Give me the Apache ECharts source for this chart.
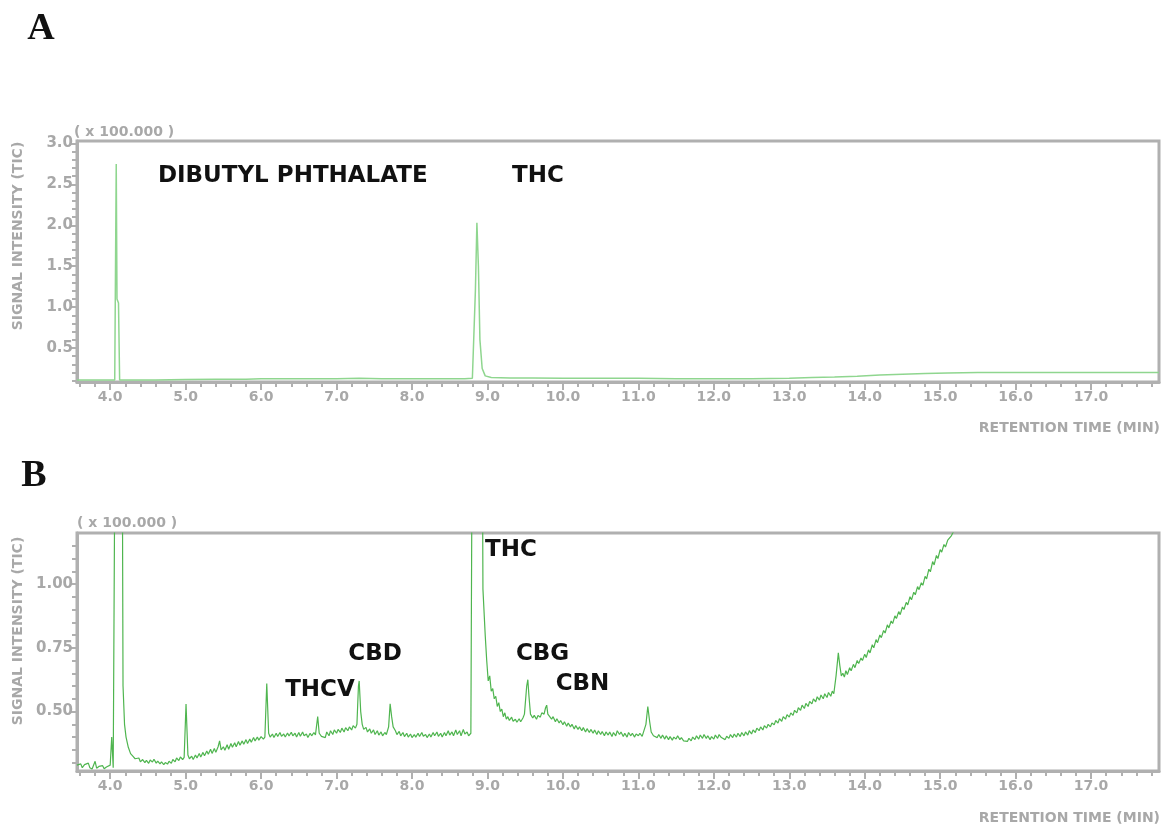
<!DOCTYPE html>
<html>
<head>
<meta charset="utf-8">
<script src="https://cdn.jsdelivr.net/npm/echarts@6/dist/echarts.min.js"></script>
<style>
  html, body { margin: 0; padding: 0; background: #fff; }
  #chart { width: 1164px; height: 827px; }
</style>
</head>
<body>
<div id="chart"></div>
<script>
// chromatogram A: [retention time (min), signal x100.000]
const traceA = [
  [3.56, 0.11], [3.8, 0.11], [4.0, 0.11], [4.06, 0.11], [4.08, 2.75], [4.09, 1.1], [4.11, 1.05], [4.125, 0.11],
  [4.3, 0.11], [4.6, 0.11], [5.0, 0.115], [5.4, 0.12], [5.8, 0.12], [6.0, 0.125], [6.3, 0.125], [6.6, 0.125],
  [7.0, 0.125], [7.3, 0.13], [7.6, 0.125], [8.0, 0.125], [8.4, 0.125], [8.7, 0.125], [8.8, 0.13], [8.84, 1.2],
  [8.86, 2.03], [8.88, 1.5], [8.9, 0.6], [8.93, 0.25], [8.97, 0.16], [9.05, 0.14], [9.3, 0.135], [9.6, 0.135],
  [10.0, 0.13], [10.5, 0.13], [11.0, 0.13], [11.5, 0.125], [12.0, 0.125], [12.5, 0.125], [13.0, 0.13], [13.3, 0.14],
  [13.6, 0.145], [13.9, 0.155], [14.2, 0.17], [14.5, 0.18], [14.8, 0.19], [15.1, 0.195], [15.5, 0.2], [16.0, 0.2],
  [16.5, 0.2], [17.0, 0.2], [17.5, 0.2], [17.9, 0.2]
];

// chromatogram B (zoomed), peaks at 4.1 and 8.85 run off the top
const traceB = [
  [3.56, 0.29], [3.58, 0.283], [3.61, 0.295], [3.63, 0.28], [3.66, 0.292], [3.68, 0.285], [3.71, 0.298], [3.73, 0.28],
  [3.76, 0.275], [3.78, 0.28], [3.80, 0.305], [3.82, 0.278], [3.85, 0.285], [3.87, 0.28], [3.90, 0.288], [3.92, 0.276],
  [3.95, 0.283], [3.97, 0.277], [4.00, 0.29], [4.02, 0.40], [4.04, 0.28], [4.06, 0.275],
  [4.08, 2.5], [4.15, 2.5], [4.17, 0.60], [4.19, 0.45], [4.21, 0.40], [4.24, 0.36], [4.27, 0.335], [4.30, 0.325], [4.33, 0.315],
  [4.35, 0.31], [4.38, 0.318], [4.40, 0.303], [4.43, 0.312], [4.46, 0.300], [4.48, 0.309], [4.51, 0.297], [4.53, 0.31],
  [4.56, 0.302], [4.58, 0.313], [4.61, 0.298], [4.63, 0.306], [4.66, 0.295], [4.68, 0.303], [4.71, 0.292], [4.73, 0.30],
  [4.76, 0.294], [4.78, 0.305], [4.81, 0.297], [4.83, 0.312], [4.86, 0.303], [4.88, 0.318], [4.91, 0.308], [4.93, 0.322],
  [4.96, 0.312], [4.98, 0.32], [5.005, 0.53], [5.03, 0.33], [5.05, 0.315],
  [5.08, 0.325], [5.10, 0.312], [5.13, 0.33], [5.15, 0.318], [5.18, 0.336], [5.20, 0.322], [5.23, 0.34], [5.25, 0.327],
  [5.28, 0.345], [5.30, 0.333], [5.33, 0.352], [5.35, 0.336], [5.38, 0.355], [5.40, 0.34], [5.43, 0.362], [5.45, 0.385],
  [5.47, 0.35], [5.50, 0.362], [5.52, 0.348], [5.55, 0.37], [5.57, 0.352], [5.60, 0.375], [5.62, 0.36], [5.65, 0.378],
  [5.67, 0.362], [5.70, 0.383], [5.72, 0.368], [5.75, 0.385], [5.77, 0.372], [5.80, 0.39], [5.82, 0.375], [5.85, 0.392],
  [5.87, 0.38], [5.90, 0.398], [5.92, 0.385], [5.95, 0.40], [5.97, 0.388], [6.00, 0.402], [6.03, 0.392], [6.05, 0.40],
  [6.075, 0.61], [6.10, 0.415], [6.12, 0.40],
  [6.15, 0.412], [6.17, 0.398], [6.20, 0.415], [6.22, 0.402], [6.25, 0.418], [6.27, 0.403], [6.30, 0.412], [6.32, 0.40],
  [6.35, 0.416], [6.37, 0.404], [6.40, 0.419], [6.42, 0.405], [6.45, 0.415], [6.47, 0.40], [6.50, 0.418], [6.52, 0.403],
  [6.55, 0.42], [6.57, 0.405], [6.60, 0.412], [6.62, 0.398], [6.65, 0.415], [6.67, 0.405], [6.70, 0.418], [6.72, 0.408],
  [6.75, 0.48], [6.77, 0.415], [6.80, 0.403], [6.82, 0.41], [6.85, 0.398], [6.87, 0.42], [6.90, 0.405], [6.92, 0.425],
  [6.95, 0.41], [6.97, 0.428], [7.00, 0.415], [7.02, 0.43], [7.05, 0.418], [7.07, 0.435], [7.10, 0.42], [7.12, 0.437],
  [7.15, 0.425], [7.17, 0.44], [7.20, 0.428], [7.22, 0.445], [7.25, 0.435], [7.27, 0.45],
  [7.29, 0.60], [7.30, 0.62], [7.32, 0.50], [7.34, 0.45], [7.36, 0.43],
  [7.39, 0.438], [7.41, 0.42], [7.44, 0.432], [7.46, 0.415], [7.49, 0.428], [7.51, 0.41], [7.54, 0.425], [7.56, 0.408],
  [7.59, 0.42], [7.61, 0.405], [7.64, 0.418], [7.66, 0.41], [7.69, 0.44], [7.71, 0.53], [7.73, 0.48], [7.75, 0.44], [7.78, 0.425],
  [7.80, 0.41], [7.83, 0.422], [7.85, 0.405], [7.88, 0.418], [7.90, 0.402], [7.93, 0.415], [7.95, 0.40], [7.98, 0.412],
  [8.00, 0.398], [8.03, 0.41], [8.05, 0.40], [8.08, 0.415], [8.10, 0.402], [8.13, 0.418], [8.15, 0.403], [8.18, 0.41],
  [8.20, 0.398], [8.23, 0.412], [8.25, 0.40], [8.28, 0.418], [8.30, 0.405], [8.33, 0.42], [8.35, 0.403], [8.38, 0.415],
  [8.40, 0.40], [8.43, 0.418], [8.45, 0.405], [8.48, 0.425], [8.50, 0.408], [8.53, 0.42], [8.55, 0.405], [8.58, 0.428],
  [8.60, 0.41], [8.63, 0.425], [8.65, 0.405], [8.68, 0.43], [8.70, 0.412], [8.73, 0.42], [8.75, 0.405], [8.78, 0.415],
  [8.80, 0.42], [8.81, 2.5], [8.92, 2.5], [8.94, 0.98], [8.97, 0.80], [8.99, 0.70], [9.01, 0.62], [9.03, 0.64],
  [9.05, 0.58], [9.07, 0.59], [9.09, 0.55], [9.11, 0.56], [9.13, 0.52], [9.15, 0.535], [9.17, 0.50], [9.19, 0.51],
  [9.21, 0.48], [9.23, 0.495], [9.25, 0.47], [9.27, 0.48], [9.29, 0.465], [9.32, 0.478], [9.34, 0.462], [9.37, 0.47],
  [9.39, 0.458], [9.42, 0.472], [9.44, 0.46], [9.47, 0.475], [9.49, 0.49],
  [9.52, 0.60], [9.535, 0.625], [9.55, 0.56], [9.57, 0.49], [9.60, 0.475], [9.62, 0.485], [9.65, 0.47], [9.67, 0.485],
  [9.70, 0.478], [9.72, 0.495], [9.75, 0.49], [9.77, 0.515], [9.785, 0.525], [9.80, 0.49], [9.82, 0.495], [9.85, 0.47],
  [9.87, 0.48], [9.90, 0.46], [9.92, 0.472], [9.95, 0.455], [9.97, 0.465], [10.00, 0.448], [10.02, 0.46], [10.05, 0.442],
  [10.07, 0.455], [10.10, 0.44], [10.12, 0.45], [10.15, 0.432], [10.17, 0.445], [10.20, 0.43], [10.22, 0.44], [10.25, 0.425],
  [10.27, 0.437], [10.30, 0.42], [10.32, 0.433], [10.35, 0.418], [10.37, 0.43], [10.40, 0.415], [10.42, 0.428], [10.45, 0.41],
  [10.47, 0.425], [10.50, 0.41], [10.52, 0.422], [10.55, 0.405], [10.57, 0.42], [10.60, 0.408], [10.62, 0.42], [10.65, 0.402],
  [10.67, 0.418], [10.70, 0.405], [10.72, 0.425], [10.75, 0.41], [10.77, 0.42], [10.80, 0.402], [10.82, 0.415], [10.85, 0.40],
  [10.87, 0.418], [10.90, 0.405], [10.92, 0.415], [10.95, 0.40], [10.97, 0.412], [11.00, 0.405], [11.02, 0.415], [11.05, 0.403],
  [11.07, 0.41], [11.10, 0.45], [11.125, 0.52], [11.15, 0.46], [11.17, 0.42], [11.20, 0.405],
  [11.22, 0.412], [11.25, 0.398], [11.27, 0.41], [11.30, 0.395], [11.32, 0.408], [11.35, 0.392], [11.37, 0.405], [11.40, 0.39],
  [11.42, 0.402], [11.45, 0.388], [11.47, 0.40], [11.50, 0.392], [11.52, 0.405], [11.55, 0.39], [11.57, 0.398], [11.60, 0.385],
  [11.62, 0.392], [11.65, 0.383], [11.67, 0.395], [11.70, 0.385], [11.72, 0.40], [11.75, 0.39], [11.77, 0.405], [11.80, 0.392],
  [11.82, 0.408], [11.85, 0.395], [11.87, 0.41], [11.90, 0.395], [11.92, 0.405], [11.95, 0.39], [11.97, 0.402], [12.00, 0.392],
  [12.02, 0.408], [12.05, 0.395], [12.07, 0.41], [12.10, 0.398], [12.12, 0.405], [12.15, 0.39], [12.17, 0.403], [12.20, 0.395],
  [12.22, 0.41], [12.25, 0.398], [12.27, 0.412], [12.30, 0.40], [12.32, 0.415], [12.35, 0.402], [12.37, 0.418], [12.40, 0.405],
  [12.42, 0.42], [12.45, 0.408], [12.47, 0.425], [12.50, 0.412], [12.52, 0.428], [12.55, 0.418], [12.57, 0.435], [12.60, 0.425],
  [12.62, 0.44], [12.65, 0.428], [12.67, 0.445], [12.70, 0.435],
  [12.72, 0.45], [12.75, 0.44], [12.77, 0.455], [12.80, 0.448], [12.82, 0.465], [12.85, 0.455], [12.87, 0.472], [12.90, 0.462],
  [12.92, 0.48], [12.95, 0.47], [12.97, 0.488], [13.00, 0.478], [13.02, 0.495], [13.05, 0.485], [13.07, 0.505], [13.10, 0.495],
  [13.12, 0.515], [13.15, 0.505], [13.17, 0.525], [13.20, 0.512], [13.22, 0.532], [13.25, 0.52], [13.27, 0.54], [13.30, 0.53],
  [13.32, 0.55], [13.35, 0.538], [13.37, 0.558], [13.40, 0.545], [13.42, 0.565], [13.45, 0.55], [13.47, 0.57], [13.50, 0.555],
  [13.52, 0.575], [13.55, 0.56], [13.57, 0.58], [13.59, 0.57],
  [13.62, 0.64], [13.65, 0.73], [13.67, 0.68], [13.69, 0.64], [13.71, 0.65], [13.73, 0.635], [13.75, 0.66], [13.77, 0.645],
  [13.80, 0.672], [13.82, 0.66], [13.85, 0.685], [13.87, 0.672], [13.90, 0.70], [13.92, 0.688], [13.95, 0.71], [13.97, 0.70],
  [14.00, 0.725], [14.02, 0.712], [14.05, 0.742], [14.07, 0.73], [14.10, 0.762], [14.12, 0.75], [14.15, 0.782], [14.17, 0.77],
  [14.20, 0.80], [14.22, 0.79], [14.25, 0.818], [14.27, 0.808], [14.30, 0.84], [14.32, 0.828], [14.35, 0.855], [14.37, 0.845],
  [14.40, 0.875], [14.42, 0.865], [14.45, 0.892], [14.47, 0.88], [14.50, 0.91], [14.52, 0.90], [14.55, 0.928], [14.57, 0.918],
  [14.60, 0.95], [14.62, 0.938], [14.65, 0.968], [14.67, 0.958], [14.70, 0.99], [14.72, 0.978], [14.75, 1.005], [14.77, 0.995],
  [14.80, 1.03], [14.82, 1.02], [14.85, 1.058], [14.87, 1.048], [14.90, 1.088], [14.92, 1.075], [14.95, 1.112], [14.97, 1.10],
  [15.00, 1.135], [15.02, 1.125], [15.05, 1.155], [15.07, 1.145], [15.10, 1.172], [15.12, 1.165], [15.15, 1.19], [15.17, 1.185],
  [15.20, 1.22]
];

// peak names and where their labels sit [time, level]
const peaksA = [
  { name: 'DIBUTYL PHTHALATE', coord: [6.42, 2.6] },
  { name: 'THC', coord: [9.67, 2.6] }
];
const peaksB = [
  { name: 'THC', coord: [9.31, 1.134] },
  { name: 'CBD', coord: [7.51, 0.724] },
  { name: 'THCV', coord: [6.78, 0.583] },
  { name: 'CBG', coord: [9.73, 0.724] },
  { name: 'CBN', coord: [10.26, 0.607] }
];

const xTicks = [4, 5, 6, 7, 8, 9, 10, 11, 12, 13, 14, 15, 16, 17];
const yTicksA = [0.5, 1.0, 1.5, 2.0, 2.5, 3.0];
const yTicksB = [0.5, 0.75, 1.0];

// minor ticks: 0.2 min on x, 0.1 on A, 0.05 on B
const xMinor = [];
for (let i = 18; i <= 89; i++) if (i % 5 !== 0) xMinor.push(i / 5);
const yMinorA = [];
for (let i = 1; i <= 30; i++) if (i % 5 !== 0) yMinorA.push(i / 10);
const yMinorB = [];
for (let i = 6; i <= 23; i++) if (i % 5 !== 0) yMinorB.push(i / 20);

const gray = '#b0b0b0';
const labelGray = '#a8a8a8';
const font = 'DejaVu Sans';

function xAxes(grid) {
  return [{
    type: 'value', gridIndex: grid, position: 'bottom', min: 3.56, max: 17.9,
    axisLine: { lineStyle: { color: gray, width: 3 } },
    axisTick: { customValues: xTicks, length: 8, lineStyle: { color: gray, width: 2 } },
    axisLabel: { customValues: xTicks, formatter: v => v.toFixed(1), color: labelGray, fontSize: 14, fontWeight: 600, fontFamily: font, margin: 8 },
    splitLine: { show: false }
  }, {
    type: 'value', gridIndex: grid, position: 'bottom', min: 3.56, max: 17.9,
    axisLine: { show: false },
    axisTick: { customValues: xMinor, length: 5, lineStyle: { color: gray, width: 2 } },
    axisLabel: { show: false },
    splitLine: { show: false }
  }];
}

function yAxes(grid, min, max, ticks, minor, digits) {
  return [{
    type: 'value', gridIndex: grid, position: 'left', min: min, max: max,
    axisLine: { show: true, lineStyle: { color: gray, width: 3 } },
    axisTick: { show: true, customValues: ticks, length: 7, lineStyle: { color: gray, width: 2 } },
    axisLabel: { customValues: ticks, formatter: v => v.toFixed(digits), color: labelGray, fontSize: 15, fontWeight: 600, fontFamily: font, margin: 4 },
    splitLine: { show: false }
  }, {
    type: 'value', gridIndex: grid, position: 'left', min: min, max: max,
    axisLine: { show: false },
    axisTick: { show: true, customValues: minor, length: 5, lineStyle: { color: gray, width: 2 } },
    axisLabel: { show: false },
    splitLine: { show: false }
  }];
}

function peakLabels(list) {
  return {
    symbol: 'circle', symbolSize: 0, silent: true,
    label: { show: true, position: 'inside', formatter: '{b}', color: '#111', fontSize: 23, fontWeight: 'bold', fontFamily: font },
    data: list
  };
}

function sideText(text, x, y, rot) {
  return {
    type: 'text', x: x, y: y, rotation: rot || 0,
    style: { text: text, fill: labelGray, font: '600 14px "DejaVu Sans"', textAlign: 'center', textVerticalAlign: 'middle' }
  };
}

const chart = echarts.init(document.getElementById('chart'));
chart.setOption({
  animation: false,
  grid: [
    { left: 77, top: 141, right: 5, height: 241, show: true, borderColor: gray, borderWidth: 3, containLabel: false },
    { left: 77, top: 533, right: 5, height: 238, show: true, borderColor: gray, borderWidth: 3, containLabel: false }
  ],
  xAxis: xAxes(0).concat(xAxes(1)),
  yAxis: yAxes(0, 0.085, 3.03, yTicksA, yMinorA, 1).concat(yAxes(1, 0.267, 1.2, yTicksB, yMinorB, 2)),
  series: [{
    type: 'line', xAxisIndex: 0, yAxisIndex: 0, data: traceA, showSymbol: false,
    lineStyle: { color: '#8fd68f', width: 1.5 },
    markPoint: peakLabels(peaksA)
  }, {
    type: 'line', xAxisIndex: 2, yAxisIndex: 2, data: traceB, showSymbol: false,
    lineStyle: { color: '#4fb54f', width: 1.2 },
    markPoint: peakLabels(peaksB)
  }],
  graphic: [
    { type: 'text', x: 41, y: 29, style: { text: 'A', fill: '#111', font: 'bold 38px "Liberation Serif"', textAlign: 'center', textVerticalAlign: 'middle' } },
    { type: 'text', x: 34, y: 476, style: { text: 'B', fill: '#111', font: 'bold 38px "Liberation Serif"', textAlign: 'center', textVerticalAlign: 'middle' } },
    sideText('SIGNAL INTENSITY (TIC)', 18, 236, Math.PI / 2),
    sideText('SIGNAL INTENSITY (TIC)', 18, 631, Math.PI / 2),
    { type: 'text', x: 74, y: 132, style: { text: '( x 100.000 )', fill: labelGray, font: '600 14px "DejaVu Sans"', textVerticalAlign: 'middle' } },
    { type: 'text', x: 77, y: 523, style: { text: '( x 100.000 )', fill: labelGray, font: '600 14px "DejaVu Sans"', textVerticalAlign: 'middle' } },
    { type: 'text', x: 1160, y: 428, style: { text: 'RETENTION TIME (MIN)', fill: labelGray, font: '600 14px "DejaVu Sans"', textAlign: 'right', textVerticalAlign: 'middle' } },
    { type: 'text', x: 1160, y: 818, style: { text: 'RETENTION TIME (MIN)', fill: labelGray, font: '600 14px "DejaVu Sans"', textAlign: 'right', textVerticalAlign: 'middle' } }
  ]
});
</script>
</body>
</html>
